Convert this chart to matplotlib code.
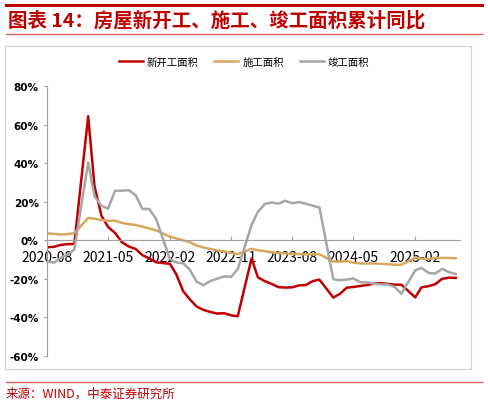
import numpy as np
import pandas as pd
import matplotlib
matplotlib.use('Agg')
import matplotlib.pyplot as plt
import matplotlib.dates as mdates
from matplotlib.lines import Line2D

plt.rcParams['font.family'] = ['Noto Sans CJK SC', 'DejaVu Sans']

# Monthly cumulative YoY (%), January not published (merged into Jan-Feb)
months = [m for m in pd.date_range('2020-08-01', '2025-08-01', freq='MS') if m.month != 1]

new_start = [-3.6, -3.4, -2.4, -2.0, -1.9,
             64.3, 28.2, 12.8, 6.9, 3.8, -0.9, -3.2, -4.5, -7.7, -9.4, -11.4,
             -12.2, -17.5, -26.3, -30.6, -34.4, -36.1, -37.2, -38.0, -37.8, -38.9, -39.4,
             -9.4, -19.2, -21.2, -22.6, -24.3, -24.5, -24.4, -23.4, -23.2, -21.2, -20.4,
             -29.7, -27.8, -24.6, -24.2, -23.7, -23.2, -22.5, -22.2, -22.6, -23.0, -23.0,
             -29.6, -24.4, -23.8, -22.8, -20.0, -19.4, -19.5]
construction = [3.6, 3.3, 3.0, 3.2, 3.7,
                11.6, 11.2, 10.5, 10.1, 10.2, 9.0, 8.4, 7.9, 7.1, 6.1, 5.2,
                1.9, 1.0, 0.0, -1.0, -2.8, -3.7, -4.5, -5.3, -5.7, -6.5, -7.2,
                -4.4, -5.2, -5.6, -6.2, -6.6, -6.8, -7.1, -7.1, -7.3, -7.2, -7.2,
                -11.0, -11.1, -10.8, -11.6, -12.0, -12.1, -12.0, -12.2, -12.4, -12.7, -12.7,
                -9.1, -9.5, -9.7, -9.2, -9.1, -9.2, -9.3]
completion = [-10.9, -11.6, -9.2, -7.3, -4.9,
              40.4, 22.9, 17.9, 16.4, 25.7, 25.7, 26.0, 23.4, 16.3, 16.2, 11.2,
              -9.8, -11.5, -11.9, -15.3, -21.5, -23.3, -21.1, -19.9, -18.7, -19.0, -15.0,
              8.0, 14.7, 18.8, 19.6, 19.0, 20.5, 19.2, 19.8, 19.0, 17.9, 17.0,
              -20.2, -20.7, -20.4, -19.8, -21.8, -21.8, -22.6, -22.9, -22.9, -24.2, -27.7,
              -15.6, -14.3, -16.9, -17.3, -14.8, -16.5, -17.5]

names = ['新开工面积', '施工面积', '竣工面积']
colors = ['#C00000', '#D9A860', '#A6A6A6']
tick_months = pd.date_range('2020-08-01', '2025-08-01', freq='9MS')

W, H = 488, 406
fig = plt.figure(figsize=(W / 100, H / 100), dpi=100)

# header
red = '#C00000'
fig.add_artist(Line2D([6 / W, 482 / W], [1 - 6 / H] * 2, color=red, lw=2.2))
fig.add_artist(Line2D([6 / W, 482 / W], [1 - 35 / H] * 2, color='#D96060', lw=1.0))
fig.text(8 / W, 1 - 21 / H, '图表 14：房屋新开工、施工、竣工面积累计同比', color=red,
         fontsize=14, fontweight='bold', va='center', ha='left', style='italic')

# chart frame
fig.add_artist(plt.Rectangle((5 / W, 1 - 370 / H), 466 / W, 323 / H, fill=False,
                             ec='#D0D0D0', lw=0.8))

ax = fig.add_axes([47 / W, 1 - 357 / H, 413 / W, 270 / H])
for vals, c in zip([new_start, construction, completion], colors):
    ax.plot(months, vals, color=c, lw=1.8)

ax.set_ylim(-60, 80)
ax.set_yticks(np.arange(-60, 81, 20))
ax.set_yticklabels([f'{v}%' for v in range(-60, 81, 20)], fontweight='bold', fontsize=7.5,
                   family='DejaVu Sans')
ax.set_xlim(pd.Timestamp('2020-08-01'), pd.Timestamp('2025-08-20'))
ax.set_xticks(tick_months)
ax.xaxis.set_major_formatter(mdates.DateFormatter('%Y-%m'))
for lab in ax.get_xticklabels():
    lab.set_fontweight('bold')
    lab.set_fontsize(7.5)
    lab.set_family('DejaVu Sans')
ax.spines['bottom'].set_position(('data', 0))
for s in ['top', 'right']:
    ax.spines[s].set_visible(False)
ax.spines['bottom'].set_color('#A0A0A0')
ax.spines['left'].set_color('#A0A0A0')
ax.tick_params(axis='x', color='#A0A0A0', length=3, direction='in', pad=7)
ax.tick_params(axis='y', color='#A0A0A0', direction='out', length=2, pad=4)

handles = [Line2D([], [], color=c, lw=1.8) for c in colors]
fig.legend(handles, names, loc='center', bbox_to_anchor=(0.5, 1 - 63 / H), ncol=3,
           frameon=False, fontsize=7.5, handlelength=2.3, columnspacing=1.5, handletextpad=0.4)

# footer
fig.add_artist(Line2D([6 / W, 482 / W], [1 - 383 / H] * 2, color='#D96060', lw=1.0))
fig.text(6 / W, 1 - 394 / H, '来源：WIND，中泰证券研究所', color=red, fontsize=9,
         va='center', ha='left')

fig.savefig('out.png', dpi=100)
